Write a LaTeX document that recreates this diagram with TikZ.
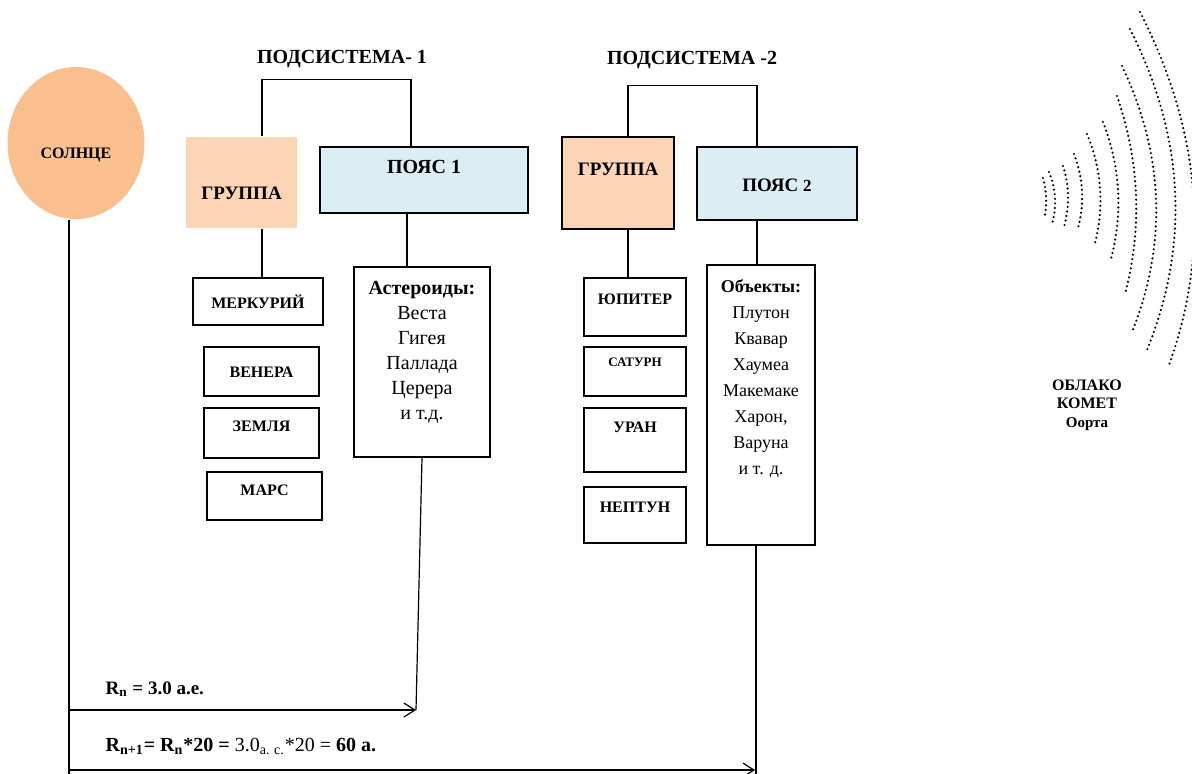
\documentclass[tikz,border=0pt]{standalone}
\usepackage{fontspec}
\setmainfont{Liberation Serif}
\usetikzlibrary{calc,shapes.geometric,arrows.meta}

\definecolor{sunfill}{RGB}{249,191,143}
\definecolor{grpfill}{RGB}{251,213,181}
\definecolor{beltfill}{RGB}{218,238,243}

\begin{document}
\begin{tikzpicture}[x=0.5pt,y=-0.5pt,line width=0.6pt,
  every node/.style={inner sep=0pt},
  sun/.style={ellipse,fill=sunfill,minimum width=68.5pt,minimum height=76pt,
    font=\bfseries\fontsize{8}{9}\selectfont},
  grp/.style={fill=grpfill,font=\bfseries\fontsize{9.5}{11}\selectfont},
  belt/.style={draw,fill=beltfill,font=\bfseries\fontsize{10}{12}\selectfont},
  planet/.style={draw,font=\bfseries\fontsize{8}{9}\selectfont},
  listbox/.style={draw},
  subsys/.style={font=\bfseries\fontsize{10}{12}\selectfont,text height=6.6pt,text depth=0pt},
  formula/.style={anchor=base west,font=\bfseries\fontsize{9.5}{11}\selectfont},
  comet/.style={line width=1.2pt,line cap=round,dash pattern=on 0pt off 2.3pt},
  rarrow/.style={-{Straight Barb[length=5.5pt,width=7pt]}}]

\useasboundingbox (0,0) rectangle (1192,773);

% sun
\node[sun,text height=15.3pt,text depth=0pt] (sun) at (76,143) {СОЛНЦЕ};

% subsystem 1
\node[subsys] (sub1) at (342,57) {ПОДСИСТЕМА- 1};
\node[grp,minimum width=55.5pt,minimum height=45.5pt,text height=16.5pt,text depth=0pt] (g1) at (241.5,182.5) {ГРУППА};
\node[belt,minimum width=104pt,minimum height=33pt,text height=0pt,text depth=6.5pt] (p1) at (424,180) {ПОЯС 1};

% subsystem 2
\node[subsys] (sub2) at (692,58) {ПОДСИСТЕМА -2};
\node[grp,draw,minimum width=56pt,minimum height=46pt,text height=0pt,text depth=8pt] (g2) at (618,183) {ГРУППА};
\node[belt,font=\bfseries\fontsize{9.5}{11}\selectfont,minimum width=80pt,minimum height=36.5pt,text height=8pt,text depth=0pt] (p2) at (777,183.5) {ПОЯС {\fontsize{8.5}{10}\selectfont 2}};

% planets
\foreach \nm/\txt/\cx/\cy/\bw/\bh/\hi/\lo in {
  mer/МЕРКУРИЙ/258/301.5/65/23.5/6.5/0,
  ven/ВЕНЕРА/261.5/371.5/57.5/24.5/5.5/0,
  zem/ЗЕМЛЯ/261.5/433/57.5/25/0/2,
  mar/МАРС/264.5/496/57.5/24/0/1,
  jup/ЮПИТЕР/635/307/51/29/0/2.5,
  sat/{\fontsize{6.5}{8}\selectfont САТУРН}/635/371.5/51/24.5/0/5.5,
  ura/УРАН/635/440/51/32/0/7.5,
  nep/НЕПТУН/635/515/51/28/0/3}
  \node[planet,minimum width=\bw pt,minimum height=\bh pt,text height=\hi pt,text depth=\lo pt] (\nm) at (\cx,\cy) {\txt};

% belts
\node[listbox,minimum width=68pt,minimum height=95pt,text height=0pt,text depth=68pt,
  font=\fontsize{10}{12.5}\selectfont] (ast) at (422,362)
  {\begin{tabular}[t]{@{}c@{}}\textbf{Астероиды:}\\ Веста\\ Гигея\\ Паллада\\ Церера\\ и т.д.\end{tabular}};
\node[listbox,minimum width=54pt,minimum height=140pt,text height=0pt,text depth=113pt,
  font=\fontsize{9}{13}\selectfont] (obj) at (761,405)
  {\begin{tabular}[t]{@{}c@{}}\textbf{Объекты:}\\ Плутон\\ Квавар\\ Хаумеа\\ Макемаке\\ Харон,\\ Варуна\\ и т. д.\end{tabular}};

% brackets and links
\draw ([xshift=10.25pt]g1.north) -- ++(0,-57) -| ([xshift=-6.5pt]p1.north);
\draw ([xshift=5pt]g2.north) -- ++(0,-51) -| ([xshift=-10pt]p2.north);
\draw ([xshift=10.25pt]g1.south) -- ([xshift=10.25pt]g1.south |- mer.north);
\draw ([xshift=-8.5pt]p1.south) -- ([xshift=-8.5pt]p1.south |- ast.north);
\draw ([xshift=5pt]g2.south) -- ([xshift=5pt]g2.south |- jup.north);
\draw ([xshift=-10pt]p2.south) -- ([xshift=-10pt]p2.south |- obj.north);

% distances
\coordinate (r1) at (69,710);
\coordinate (e1) at (416,710);
\coordinate (r2) at (69,770);
\coordinate (e2) at (755,770);
\draw ([xshift=-3.5pt]sun.south) -- ++(0,554);
\draw[rarrow] (r1) -- (e1);
\draw (ast.south) -- (e1);
\draw[rarrow] (r2) -- (e2);
\draw ([xshift=-2.5pt]obj.south) -- ++(0,228);

\node[formula] (rn) at (105,694) {R\textsubscript{n} = 3.0 а.е.};
\node[formula,font=\bfseries\fontsize{10}{12}\selectfont] (rn1) at (105,751) {R\textsubscript{n+1}= R\textsubscript{n}*20 = {\mdseries 3.0\textsubscript{а. с.}*20 =} 60 а.};

% oort cloud
\foreach \xa/\ya/\xm/\ym/\xb/\yb in {1043/178/1046/196/1045/215, 1049/172/1055/198/1052/224,
  1063/166/1068/196/1064/227, 1074/154/1082/191/1078/228, 1087/134/1100/188/1095/243,
  1103/122/1118/190/1111/259, 1117/96/1136/195/1125/294, 1122/66/1156/199/1132/332,
  1130/29/1175/190/1147/350, 1140/12/1193/190/1169/365}
{
  \pgfmathsetmacro\xq{2*\xm-(\xa+\xb)/2}
  \pgfmathsetmacro\yq{2*\ym-(\ya+\yb)/2}
  \draw[comet] (\xa,\ya) .. controls ($(\xa,\ya)!2/3!(\xq,\yq)$) and ($(\xb,\yb)!2/3!(\xq,\yq)$) .. (\xb,\yb);
}

\node[align=center,anchor=north,font=\bfseries\fontsize{8}{9.3}\selectfont] (oort) at (1087,379)
  {ОБЛАКО\\КОМЕТ\\{\fontsize{7.5}{9}\selectfont Оорта}};

\end{tikzpicture}
\end{document}
